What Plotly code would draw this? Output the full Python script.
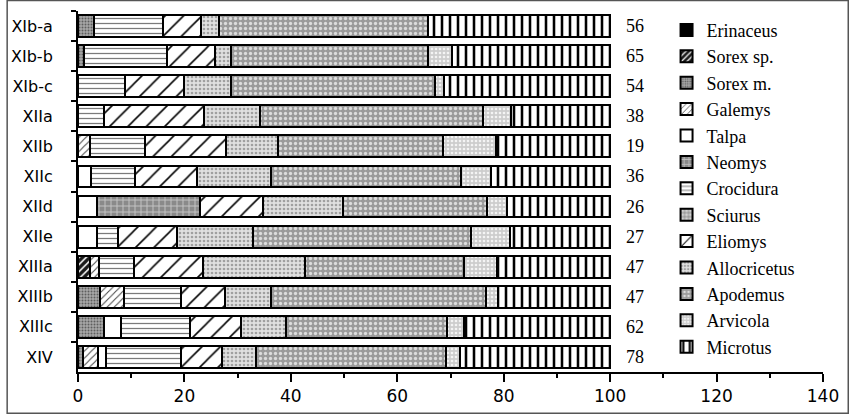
import plotly.graph_objects as go

levels = ["XIb-a", "XIb-b", "XIb-c", "XIIa", "XIIb", "XIIc", "XIId", "XIIe",
          "XIIIa", "XIIIb", "XIIIc", "XIV"]
totals = [56, 65, 54, 38, 19, 36, 26, 27, 47, 47, 62, 78]

species = ["Erinaceus", "Sorex sp.", "Sorex m.", "Galemys", "Talpa", "Neomys",
           "Crocidura", "Sciurus", "Eliomys", "Allocricetus", "Apodemus",
           "Arvicola", "Microtus"]

# percentage of each taxon per level, None = absent
erinaceus    = [None] * 12
sorex_sp     = [None, None, None, None, None, None, None, None, 2.2, None, None, None]
sorex_m      = [3.0, 1.2, None, None, None, None, None, None, None, 4.1, 4.9, 1.0]
galemys      = [None, None, None, None, 2.2, None, None, None, 1.7, 4.5, None, 2.8]
talpa        = [None, None, None, None, None, 2.4, 3.5, 3.6, None, None, 3.1, 1.4]
neomys       = [None, None, None, None, None, None, 19.5, None, None, None, None, None]
crocidura    = [12.9, 15.5, 8.8, 4.9, 10.4, 8.4, None, 3.9, 6.6, 10.7, 13.1, 14.1]
sciurus      = [None] * 12
eliomys      = [7.2, 9.0, 11.1, 18.7, 15.2, 11.5, 11.8, 11.1, 12.9, 8.3, 9.6, 7.7]
allocricetus = [3.4, 3.1, 8.9, 10.6, 9.8, 13.9, 15.0, 14.2, 19.3, 8.6, 8.3, 6.4]
apodemus     = [39.3, 37.0, 38.2, 41.9, 30.9, 35.8, 27.1, 41.1, 29.8, 40.5, 30.4, 35.8]
arvicola     = [None, 4.5, 1.7, 5.3, 10.1, 5.6, 3.7, 7.2, 6.2, 2.2, 3.1, 2.5]
microtus     = [34.2, 29.7, 31.3, 18.6, 21.4, 22.4, 19.4, 18.9, 21.3, 21.1, 27.5, 28.3]

values = [erinaceus, sorex_sp, sorex_m, galemys, talpa, neomys, crocidura,
          sciurus, eliomys, allocricetus, apodemus, arvicola, microtus]

# fill style for each taxon: (shape, background, foreground, size, solidity)
styles = [
    ("", "#000000", "#000000", 8, 0.3),
    ("/", "#1a1a1a", "#ffffff", 5, 0.3),
    (".", "#a8a8a8", "#5e5e5e", 3, 0.35),
    ("/", "#ffffff", "#444444", 5, 0.2),
    ("", "#ffffff", "#ffffff", 8, 0.3),
    ("+", "#8a8a8a", "#c4c4c4", 6, 0.3),
    ("-", "#ffffff", "#7a7a7a", 5, 0.25),
    ("+", "#d0d0d0", "#707070", 5, 0.3),
    ("/", "#ffffff", "#000000", 13, 0.12),
    (".", "#e0e0e0", "#a0a0a0", 4, 0.35),
    (".", "#9a9a9a", "#dcdcdc", 5, 0.35),
    (".", "#cdcdcd", "#f4f4f4", 4, 0.35),
    ("|", "#ffffff", "#000000", 8, 0.32),
]

fig = go.Figure()
for name, vals, st in zip(species, values, styles):
    shape, bg, fg, size, sol = st
    fig.add_trace(go.Bar(
        y=levels, x=vals, name=name, orientation="h",
        marker=dict(color=bg, line=dict(color="black", width=2),
                    pattern=dict(shape=shape, bgcolor=bg, fgcolor=fg,
                                 size=size, solidity=sol, fillmode="replace")),
    ))

for lv, n in zip(levels, totals):
    fig.add_annotation(x=102.6, y=lv, text=str(n), showarrow=False,
                       xanchor="left", yanchor="middle",
                       font=dict(family="Liberation Serif", size=18, color="black"))

# thin frame round the whole picture
fig.add_shape(type="rect", xref="paper", yref="paper",
              x0=(0.5 - 72) / 752, x1=(849.5 - 72) / 752,
              y0=-(417 - 0.5 - 375) / 364, y1=1 + (11 - 0.5) / 364,
              line=dict(color="#555555", width=1.5))

fig.update_layout(
    width=850, height=417,
    margin=dict(l=72, r=26, t=11, b=42),
    barmode="stack", bargap=0.275,
    plot_bgcolor="white", paper_bgcolor="white",
    legend=dict(traceorder="normal", x=0.79, y=0.998, xanchor="left", yanchor="top",
                maxheight=1,
                font=dict(family="Liberation Serif", size=18, color="black"),
                bgcolor="rgba(0,0,0,0)", itemclick=False),
    xaxis=dict(range=[0, 140], dtick=20, tick0=0, showgrid=False, zeroline=False,
               showline=True, linewidth=2, linecolor="black",
               ticks="outside", ticklen=8, tickwidth=2, tickcolor="black",
               minor=dict(dtick=10, ticks="outside", ticklen=4, tickwidth=2, tickcolor="black"),
               tickfont=dict(family="DejaVu Sans", size=17, color="black")),
    yaxis=dict(type="category", categoryorder="array", categoryarray=levels,
               range=[11.5, -0.5], showgrid=False, tickson="boundaries",
               showline=True, linewidth=2, linecolor="black",
               ticks="outside", ticklen=5, tickwidth=2, tickcolor="black",
               ticklabelstandoff=20,
               tickfont=dict(family="DejaVu Sans", size=16, color="black")),
)

# the page has the browser's default 8px body margin; drop it so the figure sits at 0,0
fig.write_html("out.html", config={"displayModeBar": False},
               post_script="document.body.style.margin='0';")
